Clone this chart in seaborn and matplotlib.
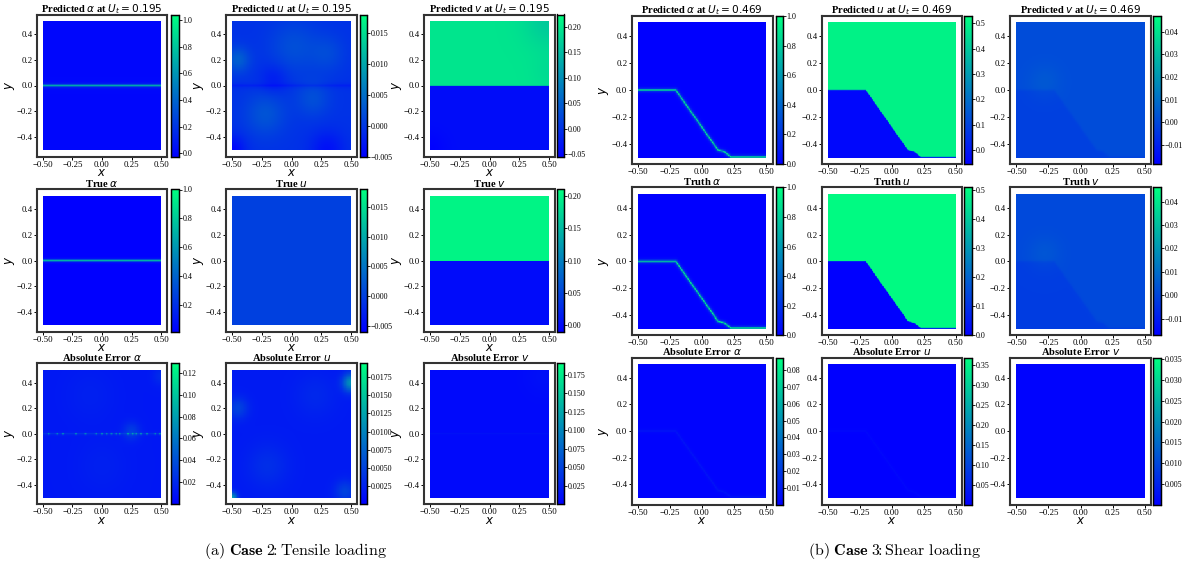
import numpy as np
import pandas as pd
import matplotlib
matplotlib.use("Agg")
import matplotlib.pyplot as plt
import seaborn as sns

sns.set_theme(style="white", rc={"text.color": "black", "axes.labelcolor": "black",
                                 "xtick.color": "black", "ytick.color": "black"})
plt.rcParams["font.family"] = ["Liberation Serif", "DejaVu Serif"]
plt.rcParams["mathtext.fontset"] = "dejavusans"

# ---------------- data ----------------
x_ticks = [-0.5, -0.25, 0.0, 0.25, 0.5]
x_tick_labels = ["\u22120.50", "\u22120.25", "0.00", "0.25", "0.50"]
y_ticks = [-0.4, -0.2, 0.0, 0.2, 0.4]
y_tick_labels = ["\u22120.4", "\u22120.2", "0.0", "0.2", "0.4"]

case2_titles = [r"Predicted $\alpha$ at $U_t = 0.195$", r"Predicted $u$ at $U_t = 0.195$",
                r"Predicted $v$ at $U_t = 0.195$",
                r"True $\alpha$", r"True $u$", r"True $v$",
                r"Absolute Error $\alpha$", r"Absolute Error $u$", r"Absolute Error $v$"]
case3_titles = [r"Predicted $\alpha$ at $U_t = 0.469$", r"Predicted $u$ at $U_t = 0.469$",
                r"Predicted $v$ at $U_t = 0.469$",
                r"Truth $\alpha$", r"Truth $u$", r"Truth $v$",
                r"Absolute Error $\alpha$", r"Absolute Error $u$", r"Absolute Error $v$"]

case2_ranges = [(-0.024, 1.041), (-0.005, 0.018), (-0.054, 0.224),
                (0.02, 1.0), (-0.006, 0.018), (-0.01, 0.21),
                (0.0, 0.1285), (0.0, 0.0194), (0.0, 0.19)]
case2_cbar_ticks = [[0.0, 0.2, 0.4, 0.6, 0.8, 1.0], [-0.005, 0.0, 0.005, 0.010, 0.015],
                    [-0.05, 0.0, 0.05, 0.10, 0.15, 0.20],
                    [0.2, 0.4, 0.6, 0.8, 1.0], [-0.005, 0.0, 0.005, 0.010, 0.015],
                    [0.0, 0.05, 0.10, 0.15, 0.20],
                    [0.02, 0.04, 0.06, 0.08, 0.10, 0.12],
                    [0.0025, 0.0050, 0.0075, 0.0100, 0.0125, 0.0150, 0.0175],
                    [0.025, 0.050, 0.075, 0.100, 0.125, 0.150, 0.175]]
case2_decimals = [1, 3, 2, 1, 3, 2, 2, 4, 3]

case3_ranges = [(-0.002, 1.002), (-0.057, 0.53), (-0.0185, 0.047),
                (0.0, 1.0), (0.0, 0.51), (-0.017, 0.046),
                (0.0003, 0.0874), (0.001, 0.37), (0.0001, 0.0354)]
case3_cbar_ticks = [[0.0, 0.2, 0.4, 0.6, 0.8, 1.0], [0.0, 0.1, 0.2, 0.3, 0.4, 0.5],
                    [-0.01, 0.0, 0.01, 0.02, 0.03, 0.04],
                    [0.0, 0.2, 0.4, 0.6, 0.8, 1.0], [0.0, 0.1, 0.2, 0.3, 0.4, 0.5],
                    [-0.01, 0.0, 0.01, 0.02, 0.03, 0.04],
                    [0.01, 0.02, 0.03, 0.04, 0.05, 0.06, 0.07, 0.08],
                    [0.05, 0.10, 0.15, 0.20, 0.25, 0.30, 0.35],
                    [0.005, 0.010, 0.015, 0.020, 0.025, 0.030, 0.035]]
case3_decimals = [1, 1, 2, 1, 1, 2, 2, 2, 3]

# tensile case (crack along y = 0)
tensile_alpha_width = 0.007
tensile_v_top, tensile_v_bottom = 0.195, -0.04
tensile_true_v_top, tensile_true_v_bottom = 0.2, 0.0
tensile_u_base = -0.0005
tensile_u_bumps = [(-0.45, 0.2, 0.004, 0.07), (-0.22, -0.22, 0.003, 0.12), (0.18, -0.1, 0.0025, 0.1),
                   (0.02, 0.3, 0.0025, 0.14), (0.3, 0.25, 0.002, 0.1), (-0.5, -0.5, -0.004, 0.08),
                   (0.3, -0.5, -0.003, 0.1), (-0.15, 0.05, -0.002, 0.08)]
tensile_v_top_bumps = [(0.5, 0.5, -0.03, 0.15), (0.5, 0.1, -0.01, 0.1)]
tensile_v_bottom_bumps = [(-0.5, -0.5, -0.012, 0.1)]
tensile_err_alpha_base = 0.012
tensile_err_alpha_bumps = [(0.25, 0.02, 0.018, 0.05), (0.5, 0.45, 0.01, 0.05),
                           (-0.1, 0.3, 0.004, 0.15), (0.0, -0.25, 0.004, 0.15)]
tensile_err_alpha_dots = [-0.45, -0.38, -0.33, -0.22, -0.14, -0.05, 0.0, 0.04, 0.08, 0.12,
                          0.15, 0.22, 0.26, 0.29, 0.33, 0.38, 0.45, 0.49]
tensile_err_u_base = 0.002
tensile_err_u_bumps = [(0.5, 0.4, 0.009, 0.05), (-0.5, -0.5, 0.01, 0.03), (-0.45, 0.2, 0.003, 0.06),
                       (0.45, -0.45, 0.003, 0.06), (-0.2, -0.25, 0.0015, 0.12), (0.2, 0.3, 0.001, 0.12)]
tensile_err_v_base = 0.007
tensile_err_v_bumps = [(0.45, 0.45, 0.005, 0.1)]

# shear case (kinked crack path)
crack_x = [-0.5, -0.205, 0.125, 0.175, 0.225, 0.5]
crack_y = [0.0, 0.0, -0.445, -0.458, -0.495, -0.495]
shear_alpha_width = 0.007
shear_u_above, shear_u_below = 0.5, -0.04
shear_true_u_above, shear_true_u_below = 0.5, 0.0
shear_v_above, shear_v_below = 0.001, -0.002
shear_v_bumps = [(-0.28, 0.06, 0.003, 0.09)]
shear_err_alpha_base, shear_err_alpha_peak = 0.0015, 0.006
shear_err_u_base, shear_err_u_peak = 0.002, 0.012
shear_err_v_base = 0.0006

# ---------------- grid ----------------
STEP, PAD, N_IN = 0.005, 10, 200
N = N_IN + 2 * PAD
centers = -0.55 + (np.arange(N) + 0.5) * STEP
X, Y = np.meshgrid(centers, centers[::-1])
inside = (np.abs(X) < 0.5) & (np.abs(Y) < 0.5)


def bumps(lst):
    out = np.zeros_like(X)
    for x0, y0, a, s in lst:
        out += a * np.exp(-((X - x0) ** 2 + (Y - y0) ** 2) / (2 * s * s))
    return out


def step(s, w=0.003):
    return 0.5 * (1 + np.tanh(s / w))


def polyline_dist(xs, ys):
    d = np.full_like(X, np.inf)
    for i in range(len(xs) - 1):
        ax_, ay_, bx, by = xs[i], ys[i], xs[i + 1], ys[i + 1]
        dx, dy = bx - ax_, by - ay_
        t = np.clip(((X - ax_) * dx + (Y - ay_) * dy) / (dx * dx + dy * dy), 0, 1)
        d = np.minimum(d, np.hypot(X - (ax_ + t * dx), Y - (ay_ + t * dy)))
    return d


# tensile fields
ay = np.abs(Y)
f_pa = 0.95 * np.exp(-ay / tensile_alpha_width) + 0.005
f_pu = tensile_u_base + bumps(tensile_u_bumps) - 0.002 * np.exp(-ay / 0.015)
top = tensile_v_top + bumps(tensile_v_top_bumps)
bot = tensile_v_bottom + bumps(tensile_v_bottom_bumps)
f_pv = bot + (top - bot) * step(Y)
f_ta = np.exp(-ay / tensile_alpha_width)
f_tu = np.zeros_like(X)
f_tv = tensile_true_v_bottom + (tensile_true_v_top - tensile_true_v_bottom) * step(Y, 0.001)
f_ea = tensile_err_alpha_base + bumps(tensile_err_alpha_bumps) + 0.02 * np.exp(-ay / 0.006)
for xd in tensile_err_alpha_dots:
    f_ea += 0.045 * np.exp(-((X - xd) ** 2 + Y ** 2) / (2 * 0.006 ** 2))
f_eu = tensile_err_u_base + bumps(tensile_err_u_bumps)
f_ev = tensile_err_v_base + bumps(tensile_err_v_bumps) + 0.01 * np.exp(-ay / 0.004)
case2_fields = [f_pa, f_pu, f_pv, f_ta, f_tu, f_tv, f_ea, f_eu, f_ev]

# shear fields
d = polyline_dist(crack_x, crack_y)
fy = np.interp(X, crack_x, crack_y)
sgn = np.where(Y >= fy, 1.0, -1.0) * d
g_pa = 0.97 * np.exp(-d / shear_alpha_width)
g_pu = shear_u_below + (shear_u_above - shear_u_below) * step(sgn)
g_pv = shear_v_below + (shear_v_above - shear_v_below) * step(sgn, 0.01) + bumps(shear_v_bumps)
g_ta = np.exp(-d / shear_alpha_width)
g_tu = shear_true_u_below + (shear_true_u_above - shear_true_u_below) * step(sgn)
g_tv = shear_v_below + (shear_v_above - shear_v_below) * step(sgn, 0.01) + bumps(shear_v_bumps)
g_ea = shear_err_alpha_base + shear_err_alpha_peak * np.exp(-d / 0.008)
g_eu = shear_err_u_base + shear_err_u_peak * np.exp(-d / 0.006)
g_ev = np.full_like(X, shear_err_v_base)
case3_fields = [g_pa, g_pu, g_pv, g_ta, g_tu, g_tv, g_ea, g_eu, g_ev]

# ---------------- layout ----------------
W, H = 1195, 566
fig = plt.figure(figsize=(W / 100, H / 100), dpi=100)

left_ax_x = [(37, 167), (226, 357), (424, 555)]
left_cb_x = [(171, 179), (360, 367), (557, 564)]
left_rows = [(14.5, 156.5), (189.5, 331.5), (363.4, 504.2)]
right_ax_x = [(631.5, 772.5), (821.7, 962.3), (1010, 1151)]
right_cb_x = [(776, 783), (964.3, 971.7), (1153, 1161)]
right_rows = [(15.7, 164.3), (187.5, 335.3), (357.5, 504.5)]


def rect(x0, x1, y0, y1):
    return [x0 / W, 1 - y1 / H, (x1 - x0) / W, (y1 - y0) / H]


def fmt(t, dec):
    return (("%." + str(dec) + "f") % t).replace("-", "\u2212")


def draw_panel(field, title, rng, ticks, dec, axx, cbx, row, ylab, xlab):
    ax = fig.add_axes(rect(axx[0], axx[1], row[0], row[1]))
    cax = fig.add_axes(rect(cbx[0], cbx[1], row[0], row[1]))
    data = np.where(inside, field, np.nan)
    sns.heatmap(pd.DataFrame(data), ax=ax, cbar_ax=cax, cmap="winter", vmin=rng[0], vmax=rng[1],
                xticklabels=False, yticklabels=False, cbar_kws={"ticks": ticks})
    ax.set_xlim(0, N)
    ax.set_ylim(N, 0)
    ax.set_xticks([(v + 0.55) / STEP for v in x_ticks])
    ax.set_xticklabels(x_tick_labels)
    ax.set_yticks([(0.55 - v) / STEP for v in y_ticks])
    ax.set_yticklabels(y_tick_labels, rotation=0)
    ax.tick_params(bottom=True, left=True, direction="out", length=2.2, width=0.7,
                   labelsize=6.3, pad=0.8)
    for s in ax.spines.values():
        s.set_visible(True)
        s.set_color("#333333")
        s.set_linewidth(1.5)
    ax.set_title(title, fontsize=7.6, fontweight="bold", pad=1.5)
    if ylab:
        ax.set_ylabel("$y$", fontsize=8.5, labelpad=0.0)
    if xlab:
        ax.set_xlabel("$x$", fontsize=8.5, labelpad=-1.2)
    cax.set_yticks(ticks)
    cax.set_yticklabels([fmt(t, dec) for t in ticks])
    cax.yaxis.set_tick_params(right=True, direction="out", length=1.8, width=0.6,
                              labelsize=5.8, pad=0.8)
    for s in cax.spines.values():
        s.set_visible(True)
        s.set_color("black")
        s.set_linewidth(0.9)


for k in range(9):
    r, c = divmod(k, 3)
    draw_panel(case2_fields[k], case2_titles[k], case2_ranges[k], case2_cbar_ticks[k],
               case2_decimals[k], left_ax_x[c], left_cb_x[c], left_rows[r], True, True)
    draw_panel(case3_fields[k], case3_titles[k], case3_ranges[k], case3_cbar_ticks[k],
               case3_decimals[k], right_ax_x[c], right_cb_x[c], right_rows[r], c == 0, r == 2)

fig.text(295 / W, 1 - 551 / H, r"$\mathrm{(a)}\ \mathbf{Case\ 2}\!\!:\mathrm{Tensile\ loading}$",
         ha="center", va="center", fontsize=11.5, math_fontfamily="cm")
fig.text(895 / W, 1 - 551 / H, r"$\mathrm{(b)}\ \mathbf{Case\ 3}\!\!:\mathrm{Shear\ loading}$",
         ha="center", va="center", fontsize=11.5, math_fontfamily="cm")

fig.savefig("out.png", dpi=100, facecolor="white")
